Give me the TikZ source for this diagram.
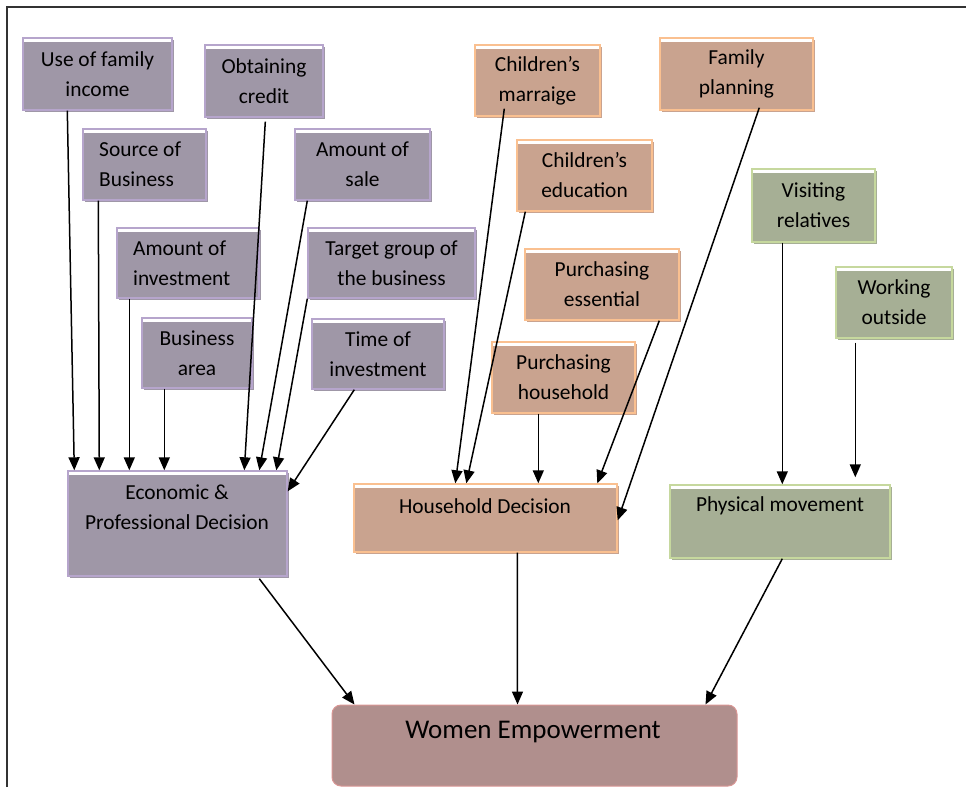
\documentclass[tikz,border=0pt]{standalone}
\usepackage{fontspec}
\setmainfont{Carlito}
\usetikzlibrary{arrows.meta,shadows}
\definecolor{pF}{RGB}{159,151,167}
\definecolor{pB}{RGB}{182,165,204}
\definecolor{oF}{RGB}{201,163,143}
\definecolor{oB}{RGB}{250,192,144}
\definecolor{gF}{RGB}{166,175,149}
\definecolor{gB}{RGB}{198,216,158}
\definecolor{wF}{RGB}{176,143,141}
\definecolor{wB}{RGB}{217,150,148}
\newcommand\bx[7]{\node[#2, minimum width=#5pt, minimum height=#6pt] (#1) at (#3,#4) {#7};}
\begin{document}
\begin{tikzpicture}[x=1pt,y=-1pt,
  boxbase/.style={inner sep=0pt, align=center, font=\fontsize{21.4}{30}\selectfont, line width=1.4pt,
    path picture={\fill[white] (path picture bounding box.north west) rectangle ([yshift=-3.5pt]path picture bounding box.north east);}},
  pbox/.style={boxbase, draw=pB, fill=pF, drop shadow={shadow xshift=2pt, shadow yshift=-2pt, fill=pF, opacity=1}},
  obox/.style={boxbase, draw=oB, fill=oF, drop shadow={shadow xshift=2pt, shadow yshift=-2pt, fill=oF, opacity=1}},
  gbox/.style={boxbase, draw=gB, fill=gF, drop shadow={shadow xshift=2pt, shadow yshift=-2pt, fill=gF, opacity=1}},
  wbox/.style={inner sep=0pt, draw=wB, fill=wF, line width=1pt, rounded corners=9pt},
  txt/.style={inner sep=0pt, align=center, font=\fontsize{21.4}{30}\selectfont},
  ltxt/.style={inner sep=0pt, align=left, anchor=west, font=\fontsize{21.4}{30}\selectfont},
  arr/.style={-{Triangle[length=13pt,width=11pt]}, line width=1.5pt}
]
\useasboundingbox (0,0) rectangle (966,787);
\draw[line width=1.6pt, black!80] (7,787) -- (7,7) -- (966,7);

% purple boxes
\bx{ufi}{pbox}{97.5}{74}{149}{72}{Use of family\\income}
\bx{oc}{pbox}{264}{81}{118}{72}{Obtaining\\credit}
\bx{sob}{pbox}{144.5}{164.5}{123}{71}{}
\node[ltxt] (sobt) at (99,164.5) {Source of\\Business};
\bx{aos}{pbox}{362.5}{164.5}{135}{71}{Amount of\\sale}
\bx{aoi}{pbox}{188}{263}{142}{70}{}
\node[ltxt] (aoit) at (133,263) {Amount of\\investment};
\bx{tgb}{pbox}{391.5}{263}{167}{70}{Target group of\\the business}
\bx{ba}{pbox}{197}{353}{110}{70}{Business\\area}
\bx{toi}{pbox}{378}{354}{132}{70}{Time of\\investment}
\bx{epd}{pbox}{177.5}{523.5}{219}{105}{}
\node[txt] (epdt) at (177,507) {Economic \&\\Professional Decision};

% orange boxes
\bx{cm}{obox}{537.5}{80.5}{125}{71}{Children’s\\marraige}
\bx{fp}{obox}{736.5}{74}{153}{72}{Family\\planning}
\bx{ce}{obox}{584.5}{175.5}{135}{71}{Children’s\\education}
\bx{pe}{obox}{602}{284.5}{154}{71}{Purchasing\\essential}
\bx{ph}{obox}{563.5}{377.5}{143}{71}{Purchasing\\household}
\bx{hd}{obox}{485.5}{518}{263}{68}{}
\node[txt] (hdt) at (485,506) {Household Decision};

% green boxes
\bx{vr}{gbox}{813.5}{205.5}{123}{73}{Visiting\\relatives}
\bx{wo}{gbox}{894}{302.5}{116}{71}{Working\\outside}
\bx{pm}{gbox}{780}{521.5}{220}{73}{}
\node[txt] (pmt) at (780,506) {Physical movement};

% women empowerment
\node[wbox, minimum width=405pt, minimum height=81pt] (we) at (534.5,745.5) {};
\node[inner sep=0pt, font=\fontsize{27}{32}\selectfont] (wet) at (533,732) {Women Empowerment};

% arrows into economic & professional decision
\draw[arr] ([xshift=45pt]ufi.south west) -- ([xshift=7pt]epd.north west);
\draw[arr] ([xshift=16pt]sob.south west) -- ([xshift=32pt]epd.north west);
\draw[arr] ([xshift=13pt]aoi.south west) -- ([xshift=62pt]epd.north west);
\draw[arr] ([xshift=23pt]ba.south west) -- ([xshift=97pt]epd.north west);
\draw[arr] ([xshift=61pt,yshift=-4pt]oc.south west) -- ([xshift=177pt]epd.north west);
\draw[arr] ([xshift=13pt]aos.south west) -- ([xshift=192pt]epd.north west);
\draw[arr] (tgb.south west) -- ([xshift=209pt]epd.north west);
\draw[arr] ([xshift=43pt]toi.south west) -- ([yshift=-21pt]epd.north east);

% arrows into household decision
\draw[arr] ([xshift=30pt,yshift=8pt]cm.south west) -- ([xshift=102pt]hd.north west);
\draw[arr] ([xshift=9pt]ce.south west) -- ([xshift=113pt]hd.north west);
\draw[arr] ([xshift=135pt]pe.south west) -- ([xshift=244pt]hd.north west);
\draw[arr] ([xshift=47pt]ph.south west) -- ([xshift=185pt]hd.north west);
\draw[arr] ([xshift=100pt,yshift=3pt]fp.south west) -- ([yshift=-37pt]hd.north east);

% arrows into physical movement
\draw[arr] ([xshift=31pt]vr.south west) -- ([xshift=113pt]pm.north west);
\draw[arr] ([xshift=20pt,yshift=-4pt]wo.south west) -- ([xshift=186pt,yshift=7pt]pm.north west);

% arrows into women empowerment
\draw[arr] ([xshift=192pt,yshift=-2pt]epd.south west) -- ([xshift=23pt]we.north west);
\draw[arr] ([xshift=164pt]hd.south west) -- ([xshift=186pt]we.north west);
\draw[arr] ([xshift=113pt]pm.south west) -- ([xshift=374pt]we.north west);
\end{tikzpicture}
\end{document}
